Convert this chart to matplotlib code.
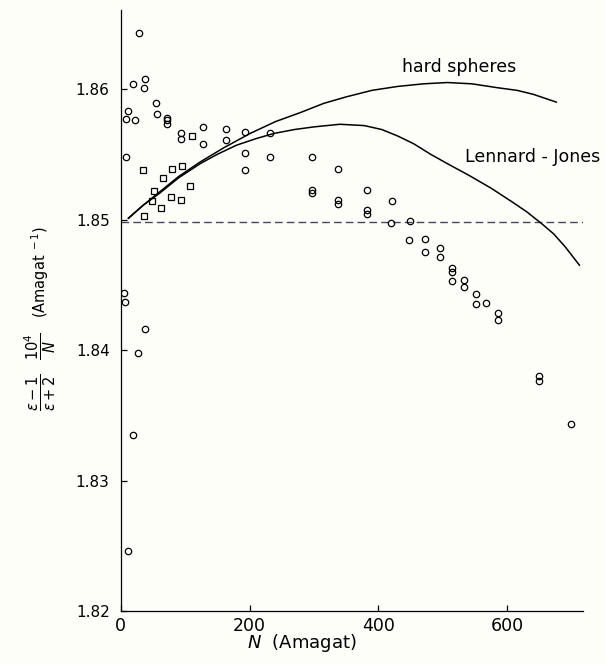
import matplotlib.pyplot as plt

# Measured points (open circles)
circ_x = [28.0, 18.7, 37.8, 36.7, 54.9, 56.0, 71.6, 71.6, 71.6, 11.8, 8.2, 22.7, 8.2,
          93.9, 93.9, 128.1, 128.1, 163.9, 163.9, 193.5, 193.5, 192.4, 231.3, 231.3,
          5.1, 6.7, 37.8, 26.5, 19.6, 11.8,
          296.2, 296.2, 296.2, 337.7, 337.7, 337.7, 381.8, 381.8, 381.8, 420.7, 419.1,
          448.7, 448.2, 472.5, 472.1, 494.9, 494.9, 513.6, 513.6, 514.1, 532.3, 532.3,
          551.9, 551.9, 567.5, 585.2, 585.2, 649.0, 649.0, 699.3]
circ_y = [1.8643, 1.8604, 1.8608, 1.8601, 1.8589, 1.8581, 1.8578, 1.8576, 1.8573, 1.8583,
          1.8577, 1.8576, 1.8548, 1.8566, 1.8562, 1.8571, 1.8558, 1.8569, 1.8561, 1.8567,
          1.8551, 1.8538, 1.8566, 1.8548,
          1.8444, 1.8437, 1.8416, 1.8398, 1.8335, 1.8246,
          1.8548, 1.8523, 1.8520, 1.8539, 1.8515, 1.8512, 1.8523, 1.8507, 1.8504, 1.8514,
          1.8497, 1.8499, 1.8484, 1.8485, 1.8475, 1.8478, 1.8471, 1.8463, 1.8460, 1.8453,
          1.8454, 1.8448, 1.8443, 1.8435, 1.8436, 1.8428, 1.8423, 1.8380, 1.8376, 1.8343]

# Measured points (open squares)
sq_x = [34.2, 111.0, 80.3, 95.9, 66.3, 52.3, 49.2, 63.2, 77.8, 93.9, 107.9, 35.8]
sq_y = [1.8538, 1.8564, 1.8539, 1.8541, 1.8532, 1.8522, 1.8514, 1.8509, 1.8517, 1.8515,
        1.8526, 1.8503]

# Theoretical curves
hs_x = [12, 35, 60, 90, 123, 160, 201, 240, 279, 315, 350, 390, 430, 470, 507, 545, 585,
        615, 640, 676]
hs_y = [1.8501, 1.8511, 1.8521, 1.8533, 1.8544, 1.8555, 1.8566, 1.8575, 1.8582, 1.8589,
        1.8594, 1.8599, 1.8602, 1.8604, 1.8605, 1.8604, 1.8601, 1.8599, 1.8596, 1.8590]
lj_x = [12, 35, 60, 90, 124, 150, 180, 210, 238, 270, 300, 340, 378, 405, 430, 455, 481,
        510, 540, 575, 606, 630, 653, 672, 690, 712]
lj_y = [1.8501, 1.8511, 1.8520, 1.8532, 1.8543, 1.8550, 1.8557, 1.8562, 1.8566, 1.8569,
        1.8571, 1.8573, 1.8572, 1.8569, 1.8564, 1.8558, 1.8550, 1.8542, 1.8534, 1.8524,
        1.8514, 1.8506, 1.8497, 1.8489, 1.8479, 1.8465]

limit_y = 1.8498

xticks = [0, 200, 400, 600]
yticks = [1.82, 1.83, 1.84, 1.85, 1.86]

bg = '#fefef9'
fig = plt.figure(figsize=(6.05, 6.64), dpi=100, facecolor=bg)
ax = fig.add_axes([0.1995, 0.0798, 0.7636, 0.905], facecolor=bg)

ax.axhline(limit_y, color='#4a4262', lw=1.0, dashes=(5.5, 3))
ax.plot(hs_x, hs_y, color='black', lw=1.1)
ax.plot(lj_x, lj_y, color='black', lw=1.1)
ax.plot(circ_x, circ_y, 'o', ms=4.6, mfc='none', mec='black', mew=0.9)
ax.plot(sq_x, sq_y, 's', ms=5.0, mfc='none', mec='black', mew=0.9)

ax.text(437, 1.8617, 'hard spheres', fontsize=12.5, va='center', ha='left')
ax.text(535, 1.8548, 'Lennard - Jones', fontsize=12.5, va='center', ha='left', clip_on=False)

ax.set_xlim(0, 717)
ax.set_ylim(1.82, 1.86605)
ax.set_xticks(xticks)
ax.set_yticks(yticks)
ax.set_xticklabels([str(v) for v in xticks], fontsize=12.5)
ax.set_yticklabels(['%.2f' % v for v in yticks], fontsize=11)
ax.tick_params(direction='in', length=4, width=0.9)
ax.tick_params(axis='x', pad=4)
ax.tick_params(axis='y', pad=8)

for side in ['top', 'right']:
    ax.spines[side].set_visible(False)
for side in ['left', 'bottom']:
    ax.spines[side].set_linewidth(0.9)

fig.text(302 / 605, 1 - 643 / 664, r'$N$  (Amagat)', fontsize=13, ha='center', va='center')
fig.text(40 / 605, 1 - 318 / 664,
         r'$\dfrac{\varepsilon - 1}{\varepsilon + 2}\quad\dfrac{10^4}{N}\quad(\mathrm{Amagat}^{\ -1})$',
         fontsize=10.5, rotation=90, ha='center', va='center')

fig.savefig('out.png', dpi=100, facecolor=bg)
